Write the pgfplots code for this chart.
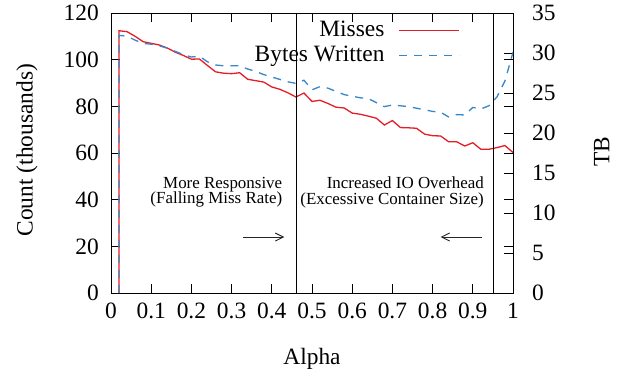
\documentclass[border=0pt]{standalone}
\usepackage{fontspec}
\setmainfont{Liberation Serif}
\usepackage{pgfplots}
\pgfplotsset{compat=1.18}
\usetikzlibrary{arrows.meta}
\definecolor{missred}{RGB}{228,30,38}
\definecolor{tbblue}{RGB}{55,135,200}
\begin{document}
\fontsize{23.5}{28}\selectfont
\begin{tikzpicture}
\pgfplotsset{
  every axis/.append style={
    scale only axis, width=402bp, height=280bp,
    at={(0,0)}, anchor=south west,
    xmin=0, xmax=1,
    font=\fontsize{23.5}{28}\selectfont,
    tick align=inside, major tick length=9bp,
    tick style={line width=0.8bp, black},
    axis line style={line width=0.8bp},
    /pgf/number format/assume math mode=true,
    legend plot pos=right,
    legend cell align=right,
  },
}
\begin{axis}[
  name=ax1,
  ymin=0, ymax=120,
  xtick={0,0.1,0.2,0.3,0.4,0.5,0.6,0.7,0.8,0.9,1},
  xticklabels={0,0.1,0.2,0.3,0.4,0.5,0.6,0.7,0.8,0.9,1},
  ytick={0,20,40,60,80,100,120},
  xtick pos=both, ytick pos=both,
  xticklabel pos=bottom, yticklabel pos=left,
  xticklabel style={anchor=base, inner sep=0pt, yshift=-25bp},
  yticklabel style={anchor=east, inner sep=0pt, xshift=-12bp},
  every axis x label/.style={at={(axis description cs:0.5,-0.257)}, anchor=base},
  every axis y label/.style={at={(axis description cs:-0.209,0.51)}, rotate=90, anchor=center},
  xlabel={Alpha}, ylabel={Count (thousands)},
  legend style={draw=none, fill=none, at={(axis description cs:0.868,0.98)},
    anchor=north east, inner sep=0pt,
    font=\fontsize{23.5}{28}\selectfont},
  legend image code/.code={\draw[missred, line width=1.3bp] (0bp,0bp) -- (60bp,0bp);},
]
\addplot[missred, line width=1.3bp] coordinates {
(0.02,0) (0.02,112.4) (0.04,112.0) (0.06,110.0) (0.08,107.7) (0.10,107.0)
(0.12,106.3) (0.14,105.0) (0.16,103.2) (0.18,101.8) (0.20,100.2) (0.22,100.3)
(0.24,97.5) (0.26,94.8) (0.28,94.2) (0.30,94.0) (0.32,94.4) (0.34,91.6)
(0.36,91.0) (0.38,90.4) (0.40,88.3) (0.42,87.3) (0.44,85.8) (0.46,84.0)
(0.48,85.7) (0.50,82.1) (0.52,82.6) (0.54,81.2) (0.56,79.6) (0.58,79.3)
(0.60,77.1) (0.62,76.6) (0.64,75.8) (0.66,74.9) (0.68,72.0) (0.70,73.9)
(0.72,70.9) (0.74,70.8) (0.76,70.6) (0.78,68.1) (0.80,67.4) (0.82,67.3)
(0.84,64.8) (0.86,64.8) (0.88,63.0) (0.90,64.4) (0.92,61.6) (0.94,61.6)
(0.96,62.3) (0.98,63.2) (1.00,60.2)
};
\addlegendentry{Misses\kern12bp\null}
\addplot[black, line width=0.8bp, forget plot] coordinates {(0.46,0) (0.46,120)};
\addplot[black, line width=0.8bp, forget plot] coordinates {(0.95,0) (0.95,120)};
\node[anchor=north east, align=right, inner sep=0pt,
  font=\fontsize{17}{15.5}\selectfont] at (axis cs:0.4264,49.7)
  {More Responsive\\(Falling Miss Rate)};
\node[anchor=north east, align=right, inner sep=0pt,
  font=\fontsize{17}{15.5}\selectfont] at (axis cs:0.928,49.7)
  {Increased IO Overhead\\(Excessive Container Size)};
\draw[black!85, line width=0.9bp, -{Straight Barb[length=8bp,width=8bp]}]
  (axis cs:0.329,24) -- (axis cs:0.431,24);
\draw[black!85, line width=0.9bp, -{Straight Barb[length=8bp,width=8bp]}]
  (axis cs:0.923,24) -- (axis cs:0.82,24);
\end{axis}
\begin{axis}[
  name=ax2,
  ymin=0, ymax=35,
  axis y line*=right, axis x line=none,
  ytick={0,5,10,15,20,25,30,35},
  yticklabel style={anchor=west, inner sep=0pt, xshift=19bp},
  every axis y label/.style={at={(axis description cs:1.221,0.505)}, rotate=90, anchor=center},
  ylabel={TB},
  legend style={draw=none, fill=none, at={(axis description cs:0.868,0.8907)},
    anchor=north east, inner sep=0pt,
    font=\fontsize{23.5}{28}\selectfont},
  legend image code/.code={\draw[tbblue, line width=1.3bp, dash pattern=on 8bp off 7bp] (0bp,0bp) -- (60bp,0bp);},
]
\addplot[tbblue, line width=1.3bp, dash pattern=on 8bp off 7bp] coordinates {
(0.02,0) (0.02,32.2) (0.04,32.1) (0.06,31.6) (0.08,31.2) (0.10,31.1)
(0.12,30.9) (0.14,30.6) (0.16,30.2) (0.18,29.8) (0.20,29.5) (0.22,29.6)
(0.24,28.9) (0.26,28.5) (0.28,28.4) (0.30,28.4) (0.32,28.4) (0.34,28.0)
(0.36,27.7) (0.38,27.3) (0.40,27.0) (0.42,26.7) (0.44,26.4) (0.46,26.2)
(0.48,26.6) (0.50,25.4) (0.52,25.8) (0.54,25.6) (0.56,25.2) (0.58,24.8)
(0.60,24.6) (0.62,24.4) (0.64,24.3) (0.66,23.8) (0.68,23.3) (0.70,23.5)
(0.72,23.4) (0.74,23.3) (0.76,23.1) (0.78,22.9) (0.80,22.7) (0.82,22.6)
(0.84,22.0) (0.86,22.3) (0.88,22.25) (0.90,23.2) (0.92,23.0) (0.94,23.4)
(0.96,24.5) (0.98,26.5) (1.00,30.1)
};
\addlegendentry{Bytes Written\kern12bp\null}
\end{axis}
\pgfresetboundingbox
\path[use as bounding box] (-111bp,-82bp) rectangle (518bp,293bp);
\end{tikzpicture}
\end{document}
